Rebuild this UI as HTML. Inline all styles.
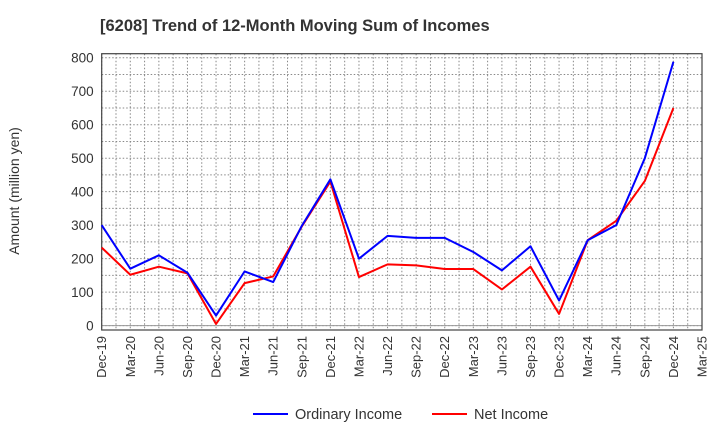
<!DOCTYPE html>
<html><head><meta charset="utf-8"><style>
body{margin:0;background:#fff;font-family:"Liberation Sans",Arial,sans-serif;}
svg text{font-family:"Liberation Sans",Arial,sans-serif;}
</style></head><body>
<svg id="chart" width="720" height="440" xmlns="http://www.w3.org/2000/svg">
<text x="100" y="31" font-size="16.5" font-weight="bold" fill="#333">[6208]  Trend of 12-Month Moving Sum of Incomes</text>
<text transform="translate(19,191) rotate(-90)" text-anchor="middle" font-size="14" fill="#333">Amount (million yen)</text>
<g id="grid"></g><g id="axes"></g><g id="series"></g>
<g>
<line x1="253" y1="414" x2="288" y2="414" stroke="#0000ff" stroke-width="2"/>
<text x="295" y="419" font-size="14.5" fill="#333">Ordinary Income</text>
<line x1="432" y1="414" x2="467" y2="414" stroke="#ff0000" stroke-width="2"/>
<text x="474" y="419" font-size="14.5" fill="#333">Net Income</text>
</g>
</svg>
<script>
const categories=["Dec-19","Mar-20","Jun-20","Sep-20","Dec-20","Mar-21","Jun-21","Sep-21","Dec-21","Mar-22","Jun-22","Sep-22","Dec-22","Mar-23","Jun-23","Sep-23","Dec-23","Mar-24","Jun-24","Sep-24","Dec-24","Mar-25"];
const ordinaryIncome=[300,170,210,158,30,162,130,298,437,200,268,262,262,220,165,237,75,255,300,500,788];
const netIncome=[233,152,176,156,5,127,147,296,430,145,183,180,169,169,108,176,35,255,313,432,650];
const yTicks=[0,100,200,300,400,500,600,700,800];
const NS="http://www.w3.org/2000/svg";
const L=101.7,R=702,T=53.7,B=330,yMin=-13,yMax=812;
const xs=i=>L+(R-L)*i/(categories.length-1);
const ys=v=>B-(v-yMin)/(yMax-yMin)*(B-T);
function mk(tag,attrs,parent){const e=document.createElementNS(NS,tag);for(const k in attrs)e.setAttribute(k,attrs[k]);parent.appendChild(e);return e;}
const grid=document.getElementById('grid'),axes=document.getElementById('axes'),series=document.getElementById('series');
for(let i=0;i<categories.length*2-1;i++){const x=L+(R-L)*i/((categories.length-1)*2);
const g=mk('line',{x1:x,x2:x,y1:T,y2:B,stroke:'#888','stroke-dasharray':'1.5,2','stroke-width':1},grid);

}
for(let v=0;v<=800;v+=50){const y=ys(v);
const g=mk('line',{x1:L,x2:R,y1:y,y2:y,stroke:'#888','stroke-dasharray':'1.5,2','stroke-width':1},grid);

}
const zl=mk('line',{x1:L,x2:R,y1:ys(0),y2:ys(0),stroke:'#999','stroke-width':1},grid);


const frame=mk('rect',{x:L,y:T,width:R-L,height:B-T,fill:'none',stroke:'#444','stroke-width':1.2},axes);


yTicks.forEach(v=>{const t=mk('text',{x:L-8,y:ys(v)+5,'text-anchor':'end','font-size':13.5,fill:'#333'},axes);t.textContent=v;

});
categories.forEach((c,i)=>{const x=xs(i);const t=mk('text',{transform:`translate(${x+4.5},${B+6}) rotate(-90)`,'text-anchor':'end','font-size':13,fill:'#333'},axes);t.textContent=c;

});
function line(data,color,name){const p=mk('polyline',{points:data.map((v,i)=>xs(i)+','+ys(v)).join(' '),fill:'none',stroke:color,'stroke-width':2,'stroke-linejoin':'round'},series);

}
line(netIncome,'#ff0000','net-income-line');
line(ordinaryIncome,'#0000ff','ordinary-income-line');
</script>
</body></html>
